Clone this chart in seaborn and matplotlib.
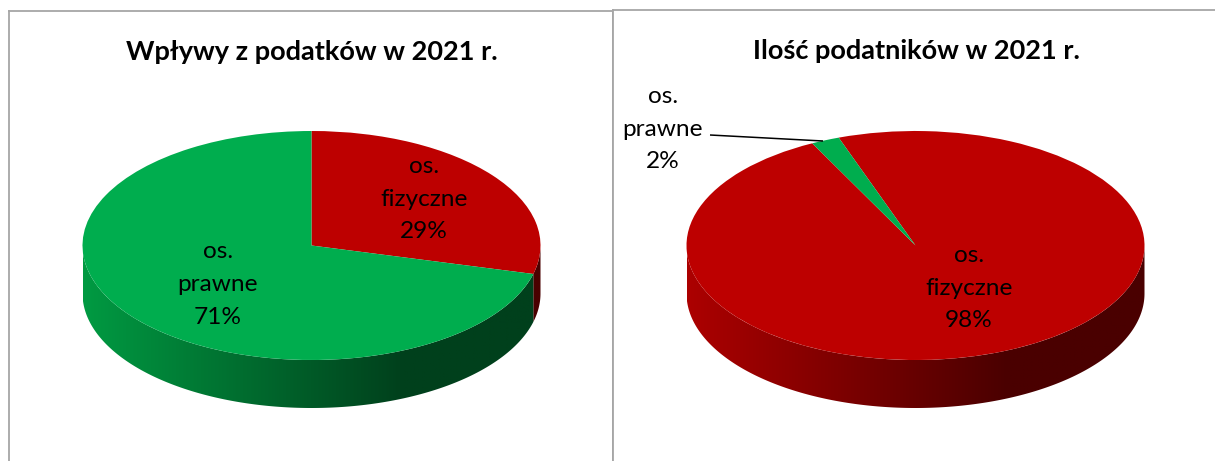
import numpy as np
import matplotlib
matplotlib.use("Agg")
import matplotlib.pyplot as plt
from matplotlib.colors import to_rgb
from matplotlib.patches import Polygon
import seaborn as sns

categories = ["os. fizyczne", "os. prawne"]
wplywy_values = [29, 71]
podatnicy_values = [98, 2]
titles = ["Wpływy z podatków w 2021 r.", "Ilość podatników w 2021 r."]

W, H = 1215, 461
RX, RY, DEPTH = 229.0, 114.5, 48.0
TOP_COLORS = sns.color_palette(["#BD0000", "#00AD4E"])
WALL_LIGHT = ["#AC0000", "#009A42"]
WALL_DARK = ["#4A0000", "#00401C"]

sns.set_theme(style="white")
plt.rcParams["font.family"] = ["Lato", "DejaVu Sans"]

fig = plt.figure(figsize=(W / 100, H / 100), dpi=100, facecolor="white")


def draw_walls(ax, values, startangle):
    total = sum(values)
    start = startangle
    depth = DEPTH / RY
    xs = np.linspace(-1, 1, 512)
    t = np.clip((xs + 1) / 1.4, 0, 1)[None, :, None]
    for i, v in enumerate(values):
        end = start - 360.0 * v / total
        th = np.radians(np.linspace(start, end, 720))
        th = th[np.sin(th) <= 0.0005]
        if len(th) > 1:
            x, y = np.cos(th), np.sin(th)
            outline = np.column_stack([np.r_[x, x[::-1]], np.r_[y, y[::-1] - depth]])
            light, dark = np.array(to_rgb(WALL_LIGHT[i])), np.array(to_rgb(WALL_DARK[i]))
            img = ax.imshow(light + (dark - light) * t, extent=(-1, 1, -1 - depth, 0.05),
                            aspect="auto", interpolation="bilinear", origin="lower", zorder=0.5)
            clip = Polygon(outline, closed=True, transform=ax.transData, facecolor="none", edgecolor="none")
            ax.add_patch(clip)
            img.set_clip_path(clip)
        start = end


def panel(bounds, centre, values, startangle, title, title_x, labels):
    l, t, r, b = bounds
    cx, cy = centre
    ax = fig.add_axes([l / W, 1 - b / H, (r - l) / W, (b - t) / H])
    ax.pie(values, colors=TOP_COLORS, startangle=startangle, counterclock=False,
           radius=1, frame=True, wedgeprops=dict(linewidth=0, zorder=1))
    draw_walls(ax, values, startangle)
    ax.set_aspect("auto")
    ax.set_xlim((l - cx) / RX, (r - cx) / RX)
    ax.set_ylim((cy - b) / RY, (cy - t) / RY)
    ax.set_xticks([])
    ax.set_yticks([])
    for name, s in ax.spines.items():
        s.set_color("#A6A6A6")
        s.set_linewidth(1.3)
        s.set_visible(name != "bottom")
    to_data = lambda px, py: ((px - cx) / RX, (cy - py) / RY)
    ax.text(*to_data(title_x, 51.5), title, ha="center", va="center",
            fontsize=19.5, fontweight="bold", color="black")
    for (px, py), text in labels:
        ax.text(*to_data(px, py), text, ha="center", va="center",
                fontsize=17.6, color="black", linespacing=1.7, zorder=5)
    return ax, to_data


def label(cat, value):
    a, b = cat.split(" ")
    return f"{a}\n{b}\n{value}%"


panel((8.5, 11, 613, 470), (311.5, 245.5), wplywy_values, 90, titles[0], 312,
      [((424, 199), label(categories[0], wplywy_values[0])),
       ((218, 284.5), label(categories[1], wplywy_values[1]))])

ax2, to_data2 = panel((613, 10, 1225, 470), (915.5, 245.5), podatnicy_values, 109.6, titles[1], 916,
                      [((969, 288), label(categories[0], podatnicy_values[0])),
                       ((663, 129), label(categories[1], podatnicy_values[1]))])
ax2.plot(*zip(to_data2(710, 135), to_data2(823, 141)), color="black", lw=1.1, zorder=4,
         solid_capstyle="butt")

fig.savefig("out.png", dpi=100, facecolor="white")
